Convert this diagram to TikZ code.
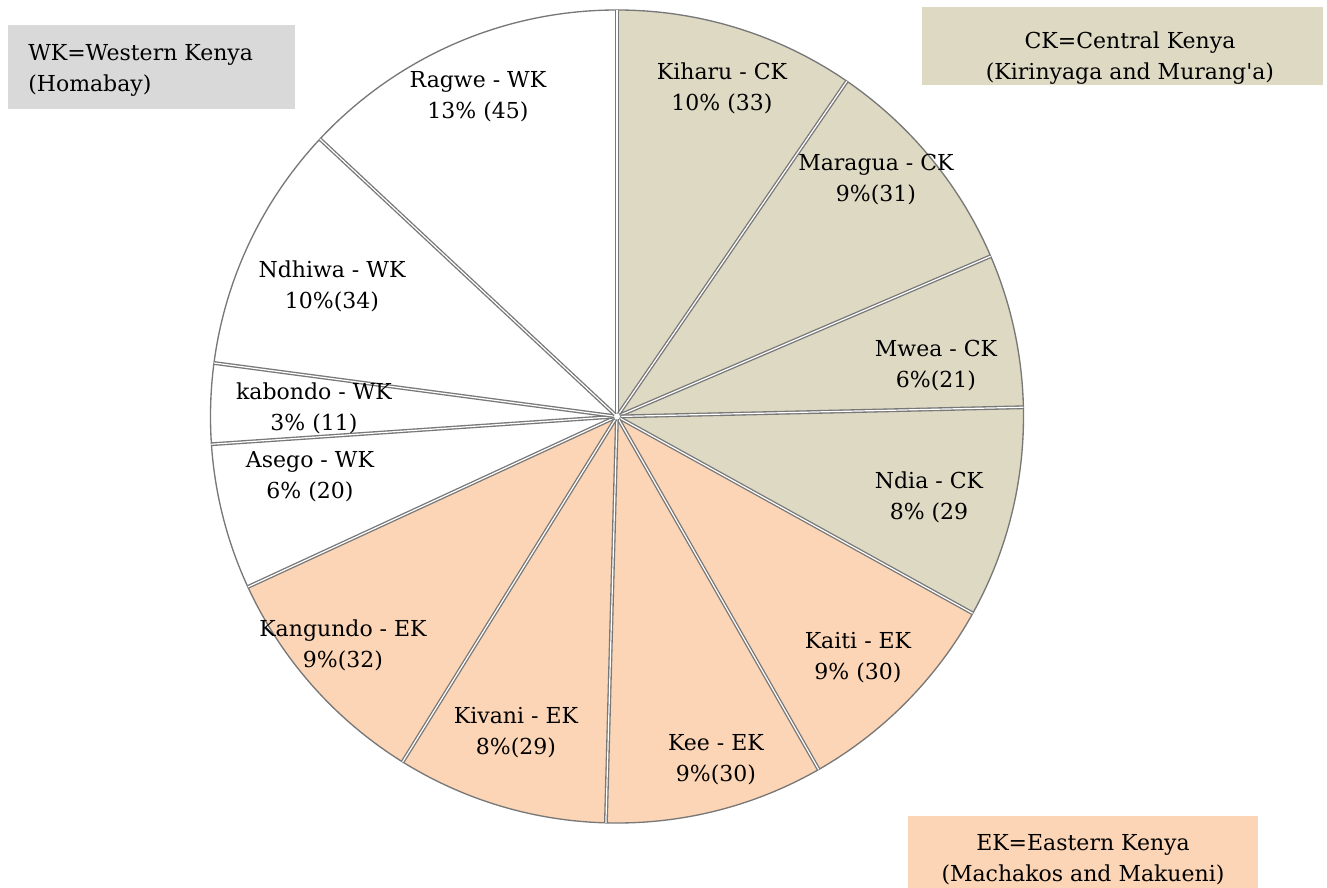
\documentclass[tikz,border=0pt]{standalone}
\usepackage{fontspec}
\setmainfont{DejaVu Serif}
\usetikzlibrary{calc}

\definecolor{ckbeige}{RGB}{221,217,195}
\definecolor{ekpeach}{RGB}{251,213,181}
\definecolor{wkgray}{RGB}{217,217,217}
\definecolor{edgegray}{RGB}{120,120,120}

\tikzset{
  slicelabel/.style={align=center, inner sep=0pt, font=\fontsize{16.5}{23.25}\selectfont},
  keytext/.style={align=center, inner sep=0pt, font=\fontsize{16.5}{23.25}\selectfont},
  sliceedge/.style={draw=edgegray, line width=1pt, double=white, double distance=0.9pt},
}

\begin{document}
\begin{tikzpicture}[x=0.75pt, y=0.75pt]
                        \useasboundingbox (-617,-471.5) rectangle (710,416.5);
                        % slices, clockwise from the top
                        \foreach \a/\b/\c in {90/55.565/ckbeige, 55.565/23.217/ckbeige, 23.217/1.304/ckbeige,
                                              1.304/-28.957/ckbeige, -28.957/-60.261/ekpeach, -60.261/-91.565/ekpeach,
                                              -91.565/-121.826/ekpeach, -121.826/-155.217/ekpeach, -155.217/-176.087/white,
                                              -176.087/-187.565/white, -187.565/-223.043/white, -223.043/-270/white}
                            \fill[\c] (0,0) -- (\a:406.5) arc[start angle=\a, end angle=\b, radius=406.5] -- cycle;
                        \draw[edgegray, line width=1pt] (0,0) circle[radius=406.5];
                        \foreach \a in {90,55.565,23.217,1.304,-28.957,-60.261,-91.565,-121.826,-155.217,-176.087,-187.565,-223.043}
                            \draw[sliceedge] (0,0) -- (\a:406.5);
                        \fill[white] (0,0) circle[radius=3];
                        % slice labels
                        \node[slicelabel] (kiharu) at (105,328.5) {Kiharu - CK\\10\% (33)};
                        \node[slicelabel] (maragua) at (259,236.5) {Maragua - CK\\9\%(31)};
                        \node[slicelabel] (mwea) at (319,50.5) {Mwea - CK\\6\%(21)};
                        \node[slicelabel] (ndia) at (312,-80.5) {Ndia - CK\\8\% (29};
                        \node[slicelabel] (kaiti) at (241,-241.5) {Kaiti - EK\\9\% (30)};
                        \node[slicelabel] (kee) at (99,-343.5) {Kee - EK\\9\%(30)};
                        \node[slicelabel] (kivani) at (-101,-316.5) {Kivani - EK\\8\%(29)};
                        \node[slicelabel] (kangundo) at (-274,-228.5) {Kangundo - EK\\9\%(32)};
                        \node[slicelabel] (asego) at (-307,-60.5) {Asego - WK\\6\% (20)};
                        \node[slicelabel] (kabondo) at (-303,8.5) {kabondo - WK\\3\% (11)};
                        \node[slicelabel] (ndhiwa) at (-285,130.5) {Ndhiwa - WK\\10\%(34)};
                        \node[slicelabel] (ragwe) at (-139,319.5) {Ragwe - WK\\13\% (45)};
                        % region keys
                        \fill[wkgray] (-609,391.5) rectangle (-322,307.5);
                        \node[keytext, align=left, anchor=west] (wkkey) at (-589,346.5) {WK=Western Kenya\\(Homabay)};
                        \fill[ckbeige] (305,409.5) rectangle (706,331.5);
                        \node[keytext] (ckkey) at (513,358.5) {CK=Central Kenya\\(Kirinyaga and Murang\textquotesingle a)};
                        \fill[ekpeach] (291,-399.5) rectangle (641,-471.5);
                        \node[keytext] (ekkey) at (466,-443.5) {EK=Eastern Kenya\\(Machakos and Makueni)};
                    \end{tikzpicture}
\end{document}
